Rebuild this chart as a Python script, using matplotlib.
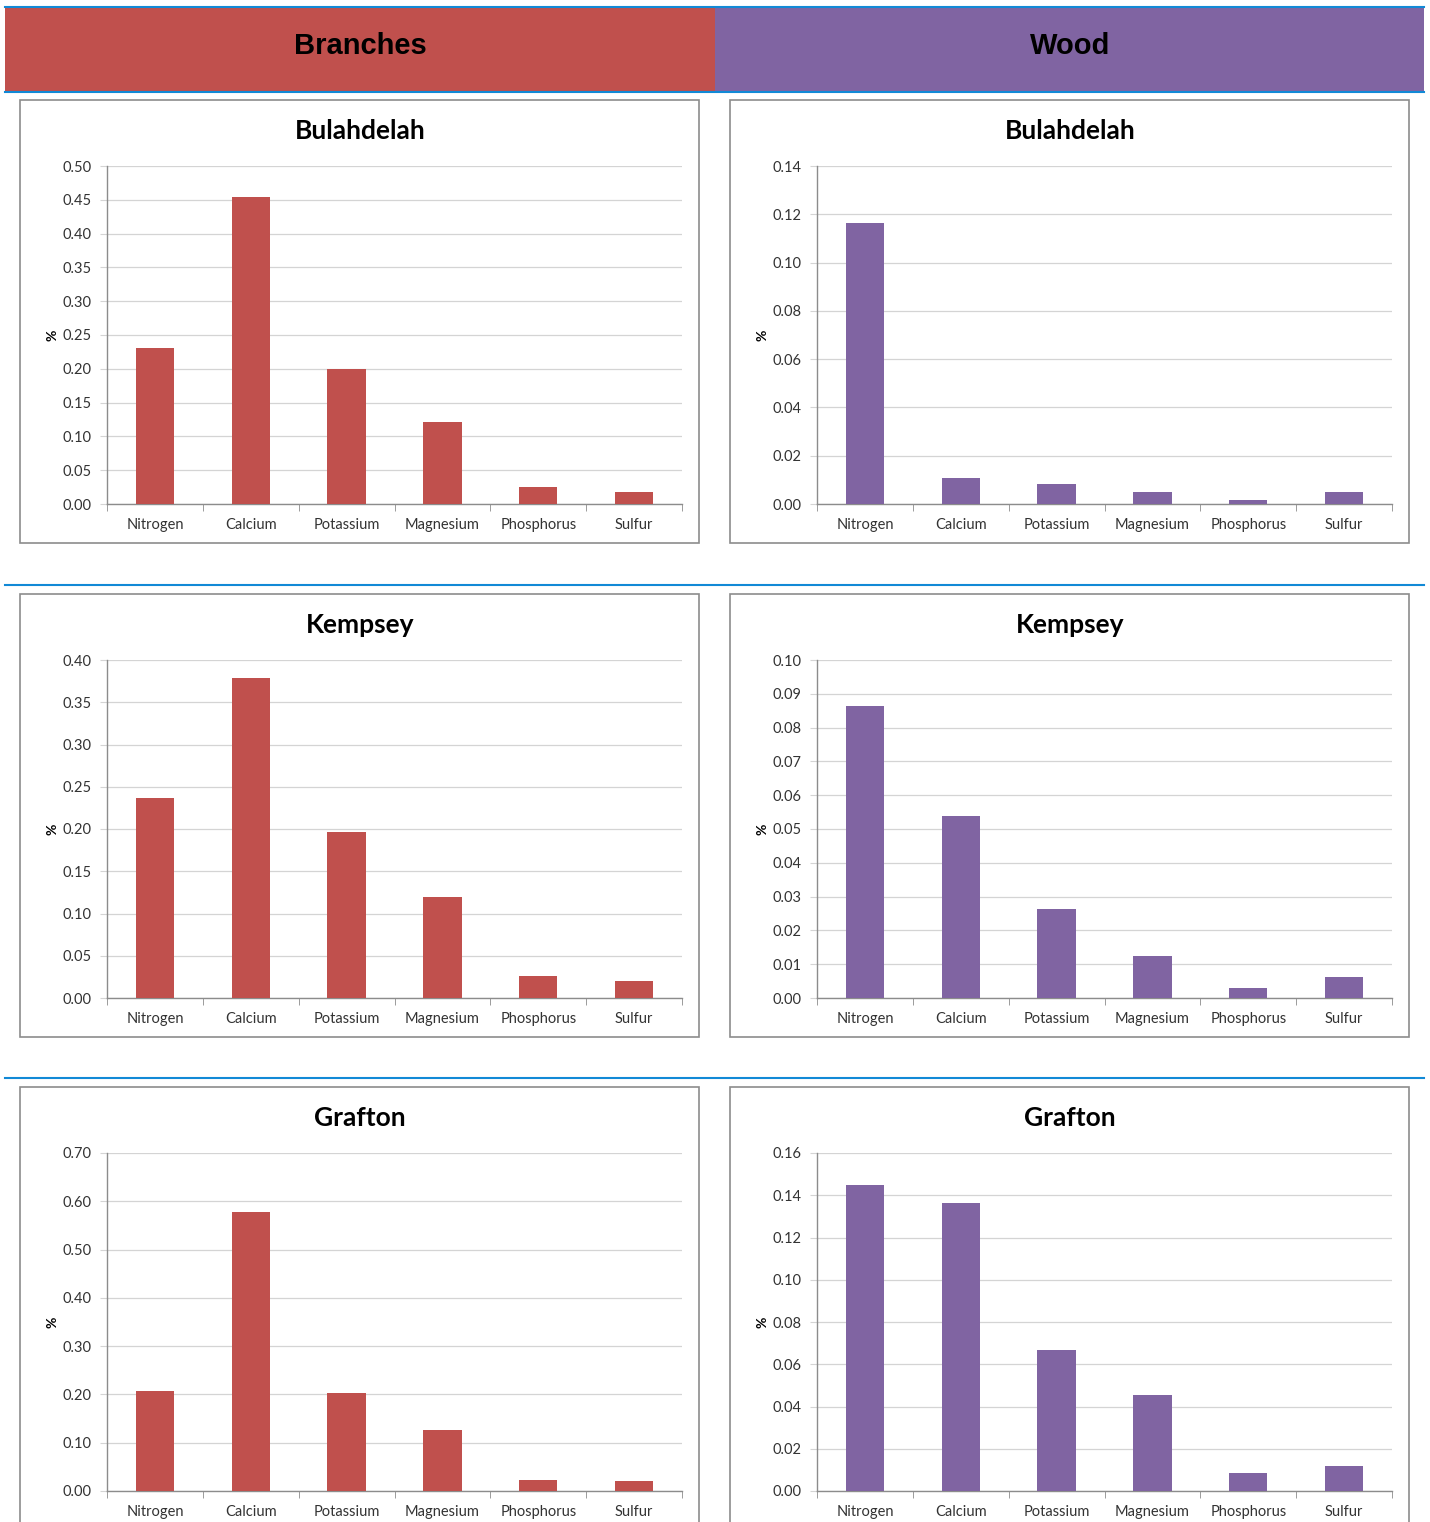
import matplotlib
matplotlib.use('Agg')
from matplotlib import pyplot as plt
from matplotlib.patches import Rectangle
from matplotlib.lines import Line2D
from matplotlib.ticker import FixedLocator, FormatStrFormatter

# Data (%)
nutrients = ['Nitrogen', 'Calcium', 'Potassium', 'Magnesium', 'Phosphorus', 'Sulfur']
sites = ['Bulahdelah', 'Kempsey', 'Grafton']

branches_bulahdelah = [0.231, 0.454, 0.200, 0.121, 0.025, 0.018]
branches_kempsey = [0.237, 0.379, 0.196, 0.120, 0.026, 0.020]
branches_grafton = [0.207, 0.578, 0.203, 0.126, 0.023, 0.020]

wood_bulahdelah = [0.1164, 0.0108, 0.0083, 0.0050, 0.0015, 0.0050]
wood_kempsey = [0.0864, 0.0538, 0.0263, 0.0124, 0.0030, 0.0062]
wood_grafton = [0.1449, 0.1363, 0.0667, 0.0454, 0.0085, 0.0118]

branches_ymax = [0.50, 0.40, 0.70]
branches_ystep = [0.05, 0.05, 0.10]
wood_ymax = [0.14, 0.10, 0.16]
wood_ystep = [0.02, 0.01, 0.02]

RED = '#C0504D'
PURPLE = '#8064A2'
BLUE = '#1189D6'
W, H = 1430, 1522


def frac(x0, y0, x1, y1):
    return [x0 / W, 1 - y1 / H, (x1 - x0) / W, (y1 - y0) / H]


def fig_rect(fig, x0, y0, x1, y1, **kw):
    l, b, w, h = frac(x0, y0, x1, y1)
    fig.patches.append(Rectangle((l, b), w, h, transform=fig.transFigure, **kw))


def fig_hline(fig, x0, x1, y, **kw):
    fig.lines.append(Line2D([x0 / W, x1 / W], [1 - y / H, 1 - y / H],
                            transform=fig.transFigure, **kw))


def draw_chart(fig, box_x, box_y, title, values, ymax, ystep, color):
    # chart frame (behind the axes)
    fig_rect(fig, box_x, box_y, box_x + 679, box_y + 443, facecolor='white',
             edgecolor='#8c8c8c', linewidth=1.2, zorder=-1)
    ax = fig.add_axes(frac(box_x + 87, box_y + 66, box_x + 662, box_y + 404))
    ax.set_zorder(1)
    ax.set_facecolor('none')
    x = range(len(values))
    ax.bar(x, values, width=0.4, color=color, zorder=3)
    ax.set_xlim(-0.5, len(values) - 0.5)
    ax.set_ylim(0, ymax)
    n = int(round(ymax / ystep))
    ax.yaxis.set_major_locator(FixedLocator([i * ystep for i in range(n + 1)]))
    ax.yaxis.set_major_formatter(FormatStrFormatter('%.2f'))
    ax.grid(axis='y', color='#d4d4d4', linewidth=0.9, zorder=0)
    ax.set_axisbelow(True)
    ax.set_xticks(list(x))
    ax.set_xticklabels(nutrients)
    ax.set_xticks([i - 0.5 for i in range(len(values) + 1)], minor=True)
    ax.tick_params(axis='x', which='major', length=0, pad=10, labelsize=10.5,
                   labelcolor='#333333')
    ax.tick_params(axis='x', which='minor', length=5, color='#8c8c8c')
    ax.tick_params(axis='y', length=5, color='#d4d4d4', pad=6, labelsize=10.5,
                   labelcolor='#333333')
    for s in ['top', 'right']:
        ax.spines[s].set_visible(False)
    for s in ['left', 'bottom']:
        ax.spines[s].set_color('#8c8c8c')
        ax.spines[s].set_linewidth(1.0)
    ax.set_ylabel('%', fontsize=10, fontweight='bold')
    ax.yaxis.set_label_coords(-0.085, 0.5)
    fig.text((box_x + 340) / W, 1 - (box_y + 31) / H, title, ha='center',
             va='center', fontsize=19, fontweight='bold')
    return ax


def main():
    plt.rcParams['font.family'] = ['Lato', 'DejaVu Sans']
    fig = plt.figure(figsize=(W / 100, H / 100), dpi=100)

    # Column headers
    fig_rect(fig, 5, 8, 715, 92, facecolor=RED, edgecolor='none', zorder=1)
    fig_rect(fig, 715, 8, 1424, 92, facecolor=PURPLE, edgecolor='none', zorder=1)
    fig_hline(fig, 5, 1424, 7, color=BLUE, linewidth=1.5, zorder=2)
    fig_hline(fig, 5, 1424, 92, color=BLUE, linewidth=1.5, zorder=2)
    fig.text(360 / W, 1 - 46 / H, 'Branches', ha='center', va='center',
             fontsize=21, fontweight='bold', family='Liberation Sans')
    fig.text(1070 / W, 1 - 46 / H, 'Wood', ha='center', va='center',
             fontsize=21, fontweight='bold', family='Liberation Sans')

    # Row separators
    fig_hline(fig, 5, 1424, 585, color=BLUE, linewidth=1.5)
    fig_hline(fig, 5, 1424, 1078, color=BLUE, linewidth=1.5)

    branches = [branches_bulahdelah, branches_kempsey, branches_grafton]
    wood = [wood_bulahdelah, wood_kempsey, wood_grafton]
    box_tops = [100, 594, 1087]
    for i, site in enumerate(sites):
        draw_chart(fig, 20, box_tops[i], site, branches[i],
                   branches_ymax[i], branches_ystep[i], RED)
        draw_chart(fig, 730, box_tops[i], site, wood[i],
                   wood_ymax[i], wood_ystep[i], PURPLE)

    fig.savefig('out.png', dpi=100)


if __name__ == '__main__':
    main()
